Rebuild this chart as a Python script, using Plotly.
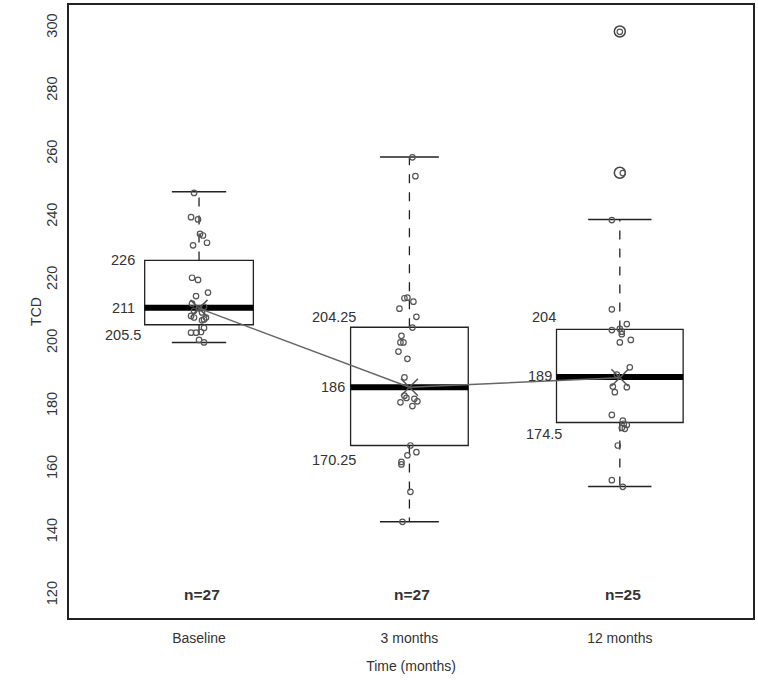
import plotly.graph_objects as go

# ---------------- data ----------------
categories = ["Baseline", "3 months", "12 months"]
positions = [1, 2, 3]
n_labels = ["n=27", "n=27", "n=25"]

q1 = [205.8, 167.5, 174.8]
median = [211.2, 186.0, 189.2]
q3 = [226.2, 205.0, 204.3]
lower_whisker = [200.2, 143.3, 154.5]
upper_whisker = [248.0, 259.0, 239.2]
means = [211.0, 186.0, 189.0]

q1_text = ["205.5", "170.25", "174.5"]
median_text = ["211", "186", "189"]
q3_text = ["226", "204.25", "204"]

outliers_12m = [298.8, 254.0]

baseline_vals = [247.6, 239.9, 239.2, 234.6, 234.1, 231.8, 231.0, 220.7, 220.0, 216.0,
                 214.9, 212.5, 211.0, 211.5, 210.2, 209.7, 208.6, 208.1, 208.1, 207.2,
                 207.5, 203.3, 203.3, 203.5, 204.8, 201.0, 200.2]
baseline_jit = [-5, -8, -1, 1, 4, 8, -6, -7, -1, 9, -3, -7, 0, 5, -5, 3, -8, -5, 7, 3,
                5, -8, -3, 2, 5, 0, 5]

m3_vals = [258.9, 252.9, 214.2, 214.4, 213.1, 210.9, 208.3, 204.9, 202.3, 200.2,
           200.2, 197.3, 195.0, 189.1, 183.3, 182.6, 181.2, 182.3, 181.5, 180.0,
           167.5, 165.4, 164.4, 162.3, 161.5, 152.8, 143.3]
m3_jit = [3, 6, -5, -2, 4, -10, 7, 3, -8, -9, -6, -11, -2, -5, -5, -3, -9, 5, 8, 3,
          1, 7, -2, -8, -8, 1, -7]

m12_vals = [298.7, 253.9, 239.0, 210.7, 206.0, 204.1, 203.6, 202.8, 201.0, 200.2,
            192.3, 186.2, 184.4, 186.0, 177.2, 175.4, 174.4, 174.0, 173.1, 167.5,
            156.5, 154.4, 172.8, 190.0, 204.5]
m12_jit = [0, 3, -8, -8, 7, -8, 2, 2, 11, 0, 10, -7, -5, 7, -8, 3, 4, 7, 2, -2,
           -8, 3, 5, -3, 0]

box_widths_px = [109, 118, 127]

# ---------------- figure ----------------
PX_PER_UNIT = 211.0
fig = go.Figure()

for i, p in enumerate(positions):
    w = box_widths_px[i] / PX_PER_UNIT
    fig.add_trace(go.Box(
        x=[p], q1=[q1[i]], median=[median[i]], q3=[q3[i]],
        lowerfence=[q1[i]], upperfence=[q3[i]],
        width=w, fillcolor="white", line=dict(color="#222222", width=1.3),
        boxpoints=False, showlegend=False, hoverinfo="skip"))
    # dashed whiskers
    fig.add_trace(go.Scatter(x=[p, p], y=[q3[i], upper_whisker[i]], mode="lines",
                             line=dict(color="#222222", width=1.3, dash="dash"),
                             showlegend=False, hoverinfo="skip"))
    fig.add_trace(go.Scatter(x=[p, p], y=[q1[i], lower_whisker[i]], mode="lines",
                             line=dict(color="#222222", width=1.3, dash="dash"),
                             showlegend=False, hoverinfo="skip"))
    # caps
    for yv in (upper_whisker[i], lower_whisker[i]):
        fig.add_trace(go.Scatter(x=[p - w / 4, p + w / 4], y=[yv, yv], mode="lines",
                                 line=dict(color="#222222", width=1.5),
                                 showlegend=False, hoverinfo="skip"))
    # thick median
    fig.add_trace(go.Scatter(x=[p - w / 2, p + w / 2], y=[median[i], median[i]], mode="lines",
                             line=dict(color="black", width=6),
                             showlegend=False, hoverinfo="skip"))

# outliers (12 months)
fig.add_trace(go.Scatter(x=[3] * len(outliers_12m), y=outliers_12m, mode="markers",
                         marker=dict(symbol="circle-open", size=11, color="#444444",
                                     line=dict(width=1.5, color="#444444")),
                         showlegend=False, hoverinfo="skip"))

# jittered points
for p, vals, jit in ((1, baseline_vals, baseline_jit), (2, m3_vals, m3_jit), (3, m12_vals, m12_jit)):
    fig.add_trace(go.Scatter(x=[p + j / PX_PER_UNIT for j in jit], y=vals, mode="markers",
                             marker=dict(symbol="circle-open", size=5.5, color="#555555",
                                         line=dict(width=1.2, color="#555555")),
                             showlegend=False, hoverinfo="skip"))

# mean line
fig.add_trace(go.Scatter(x=positions, y=means, mode="lines+markers",
                         line=dict(color="#666666", width=1.5),
                         marker=dict(symbol="x-thin-open", size=17,
                                     line=dict(width=1.5, color="#555555"), color="#555555"),
                         showlegend=False, hoverinfo="skip"))

# value labels
lab_font = dict(family="Liberation Sans, Arial, sans-serif", size=14.5, color="#333333")
q3_shift = [(-62, 0), (-51, 10), (-62, 12)]
med_shift = [(-62, 0), (-62, 0), (-66, 1)]
q1_shift = [(-56, -10), (-51, -14), (-56, -11)]
for i, p in enumerate(positions):
    for val, txt, (xs, ys) in ((q3[i], q3_text[i], q3_shift[i]),
                               (median[i], median_text[i], med_shift[i]),
                               (q1[i], q1_text[i], q1_shift[i])):
        fig.add_annotation(x=p, y=val, text=txt, showarrow=False, xanchor="right",
                           yanchor="middle", xshift=xs, yshift=ys, font=lab_font)
    fig.add_annotation(x=p, y=120.4, text="<b>" + n_labels[i] + "</b>", showarrow=False,
                       font=dict(family="Liberation Sans Narrow, Arial Narrow, Liberation Sans, Arial",
                                 size=15.5, color="#333333"),
                       xanchor="center", yanchor="middle", xshift=3)

fig.update_layout(
    width=758, height=684,
    margin=dict(l=69, r=3, t=5, b=66),
    paper_bgcolor="white", plot_bgcolor="white",
    font=dict(family="Liberation Sans, Arial, sans-serif", size=14, color="#333333"),
    xaxis=dict(range=[0.382, 3.633], tickvals=positions, ticktext=categories,
               showgrid=False, zeroline=False, showline=True, mirror=True,
               linecolor="#222222", linewidth=1.5, ticks="", ticklabelstandoff=6,
               tickfont=dict(size=14, color="#333333"),
               title=dict(text="Time (months)", standoff=17, font=dict(size=14, color="#333333"))),
    yaxis=dict(range=[112.8, 307.2], tickvals=list(range(120, 301, 20)),
               showgrid=False, zeroline=False, showline=True, mirror=True,
               linecolor="#222222", linewidth=1.5, ticks="", tickangle=-90, ticklabelstandoff=4,
               tickfont=dict(size=14.5, color="#333333"),
               title=dict(text="TCD", standoff=0, font=dict(size=14, color="#333333"))),
    showlegend=False,
)

fig.write_html("out.html", config={"displayModeBar": False},
               post_script="document.body.style.margin='0px';")
